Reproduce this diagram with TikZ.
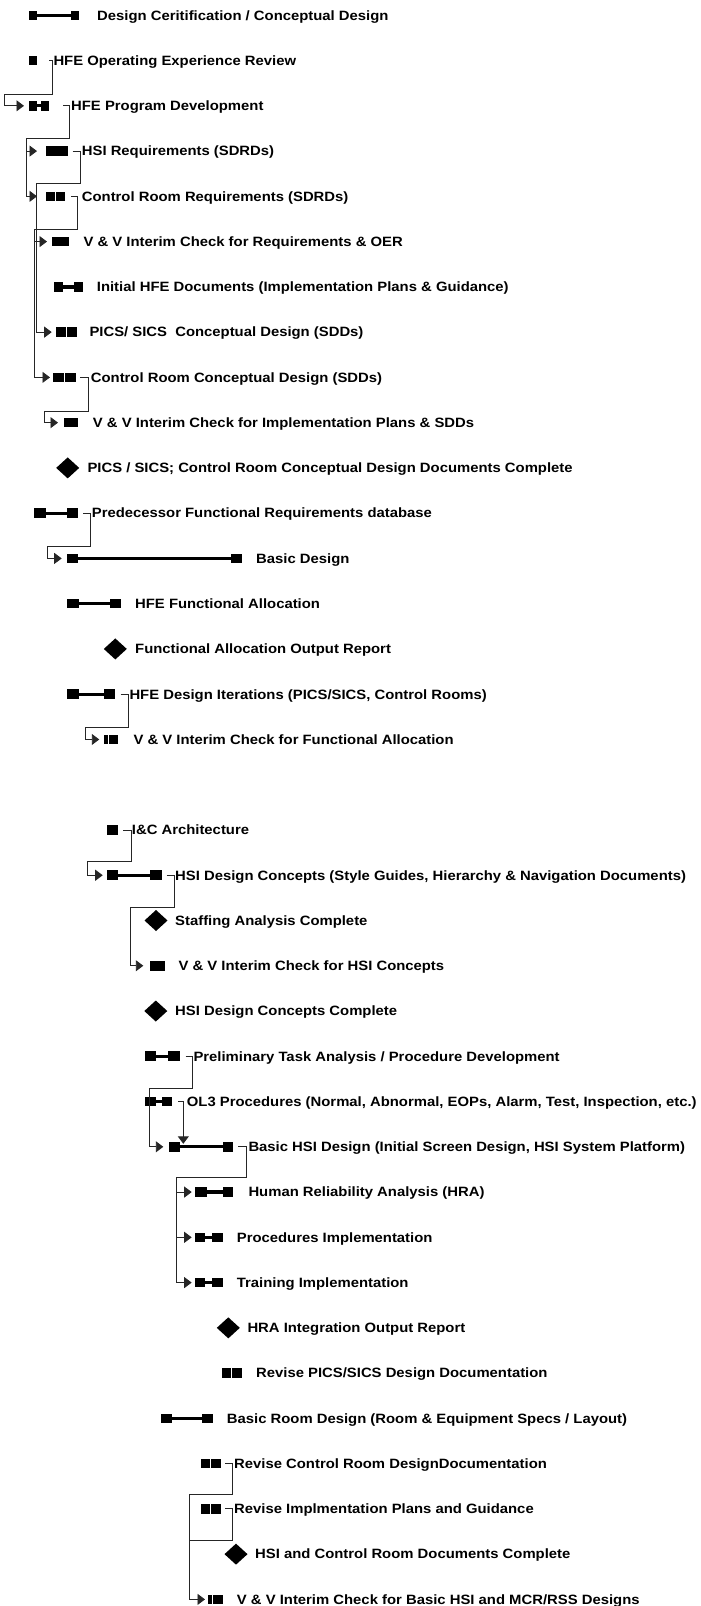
\documentclass[tikz,border=0pt]{standalone}
\usepackage{fontspec}
\setmainfont{Liberation Sans}[FakeStretch=1.1]
\usetikzlibrary{arrows.meta}
\begin{document}
\begin{tikzpicture}[x=1pt,y=-1pt,
  declare function={ry(\i)=15.3+45.26*\i;},
  lbl/.style={anchor=base west,inner sep=0pt,font=\fontsize{13.5}{15}\selectfont\bfseries},
  link/.style={line width=0.9pt,black!85},
  arr/.style={link,-{Triangle[length=7.5pt,width=11pt]}},
  barline/.style={line width=3.3pt},
]
\useasboundingbox (0,0) rectangle (701,1606);
\newcommand\Sq[3]{\fill ({#1},{ry(#3)-4.8}) rectangle ({#2},{ry(#3)+4.8});}
\newcommand\Ln[3]{\draw[barline] ({#1},{ry(#3)}) -- ({#2},{ry(#3)});}
\newcommand\Dia[2]{\fill ({#1-11.5},{ry(#2)}) -- ({#1},{ry(#2)-10.5}) -- ({#1+11.5},{ry(#2)}) -- ({#1},{ry(#2)+10.5}) -- cycle;}
\newcommand\Lbl[3]{\node[lbl] (t#2) at ({#1},{ry(#2)+4.8}) {#3};}

% rows
\Sq{29.3}{37}{0}\Ln{36}{72}{0}\Sq{71}{79}{0}
\Lbl{97}{0}{Design Ceritification / Conceptual Design}
\Sq{29.3}{37}{1}
\Lbl{53.3}{1}{HFE Operating Experience Review}
\Sq{29.3}{37}{2}\Ln{36}{41}{2}\Sq{40.7}{49}{2}
\Lbl{71}{2}{HFE Program Development}
\Sq{45.7}{68.3}{3}
\Lbl{81.7}{3}{HSI Requirements (SDRDs)}
\Sq{45.7}{55}{4}\Sq{55.7}{65}{4}
\Lbl{81.7}{4}{Control Room Requirements (SDRDs)}
\Sq{52}{55.6}{5}\Sq{56.4}{68.5}{5}
\Lbl{83.3}{5}{V \& V Interim Check for Requirements \& OER}
\Sq{54.3}{63.3}{6}\Ln{63}{74.5}{6}\Sq{74}{82.7}{6}
\Lbl{96.7}{6}{Initial HFE Documents (Implementation Plans \& Guidance)}
\Sq{56}{66}{7}\Sq{66.7}{76.7}{7}
\Lbl{89.3}{7}{PICS/ SICS\ \ Conceptual Design (SDDs)}
\Sq{53.3}{64.3}{8}\Sq{65}{76}{8}
\Lbl{90.7}{8}{Control Room Conceptual Design (SDDs)}
\Sq{64}{67.5}{9}\Sq{68.3}{78}{9}
\Lbl{92.7}{9}{V \& V Interim Check for Implementation Plans \& SDDs}
\Dia{67.7}{10}
\Lbl{87.3}{10}{PICS / SICS; Control Room Conceptual Design Documents Complete}
\Sq{34.3}{46}{11}\Ln{45}{67}{11}\Sq{66.7}{78.3}{11}
\Lbl{91.7}{11}{Predecessor Functional Requirements database}
\Sq{66.7}{78.3}{12}\Ln{78}{231.5}{12}\Sq{231}{241.7}{12}
\Lbl{256}{12}{Basic Design}
\Sq{66.7}{79.3}{13}\Ln{79}{110.5}{13}\Sq{110}{120.7}{13}
\Lbl{135}{13}{HFE Functional Allocation}
\Dia{115.3}{14}
\Lbl{135}{14}{Functional Allocation Output Report}
\Sq{66.7}{79.3}{15}\Ln{79}{104.5}{15}\Sq{104.3}{115}{15}
\Lbl{129.3}{15}{HFE Design Iterations (PICS/SICS, Control Rooms)}
\Sq{104.3}{107.8}{16}\Sq{108.6}{118.3}{16}
\Lbl{133.3}{16}{V \& V Interim Check for Functional Allocation}
\Sq{106.7}{118.3}{18}
\Lbl{131.7}{18}{I\&C Architecture}
\Sq{106.7}{118.3}{19}\Ln{118}{150.5}{19}\Sq{150}{161.7}{19}
\Lbl{175}{19}{HSI Design Concepts (Style Guides, Hierarchy \& Navigation Documents)}
\Dia{156}{20}
\Lbl{175}{20}{Staffing Analysis Complete}
\Sq{150}{153.5}{21}\Sq{154.3}{165}{21}
\Lbl{178.3}{21}{V \& V Interim Check for HSI Concepts}
\Dia{155.8}{22}
\Lbl{175}{22}{HSI Design Concepts Complete}
\Sq{145}{156}{23}\Ln{155.5}{168.5}{23}\Sq{168.3}{180}{23}
\Lbl{193.3}{23}{Preliminary Task Analysis / Procedure Development}
\Sq{145}{156}{24}\Ln{155.5}{162}{24}\Sq{161.7}{172.3}{24}
\Lbl{186.7}{24}{OL3 Procedures (Normal, Abnormal, EOPs, Alarm, Test, Inspection, etc.)}
\Sq{169.3}{180}{25}\Ln{179.5}{223}{25}\Sq{222.7}{233.3}{25}
\Lbl{248.3}{25}{Basic HSI Design (Initial Screen Design, HSI System Platform)}
\Sq{195}{206.7}{26}\Ln{206}{223}{26}\Sq{222.7}{233.3}{26}
\Lbl{248.3}{26}{Human Reliability Analysis (HRA)}
\Sq{195}{205}{27}\Ln{204.5}{212}{27}\Sq{211.7}{222.7}{27}
\Lbl{236.7}{27}{Procedures Implementation}
\Sq{195}{205}{28}\Ln{204.5}{212}{28}\Sq{211.7}{222.7}{28}
\Lbl{236.7}{28}{Training Implementation}
\Dia{228.3}{29}
\Lbl{247.3}{29}{HRA Integration Output Report}
\Sq{221.7}{231.3}{30}\Sq{232}{241.7}{30}
\Lbl{256}{30}{Revise PICS/SICS Design Documentation}
\Sq{160.7}{172.3}{31}\Ln{172}{202}{31}\Sq{201.7}{212.7}{31}
\Lbl{226.7}{31}{Basic Room Design (Room \& Equipment Specs / Layout)}
\Sq{200.7}{210.3}{32}\Sq{211}{220.7}{32}
\Lbl{234}{32}{Revise Control Room DesignDocumentation}
\Sq{200.7}{210.3}{33}\Sq{211}{220.7}{33}
\Lbl{234}{33}{Revise Implmentation Plans and Guidance}
\Dia{236}{34}
\Lbl{255}{34}{HSI and Control Room Documents Complete}
\Sq{208.3}{211.8}{35}\Sq{212.6}{222.7}{35}
\Lbl{236.7}{35}{V \& V Interim Check for Basic HSI and MCR/RSS Designs}

% links
\draw[arr] (49.3,{ry(1)}) -| (52.3,{ry(2)-11}) -| (4,{ry(2)}) -- (24,{ry(2)});
\draw[arr] (63.3,{ry(2)}) -| (69,{ry(3)-12.8}) -| (26,{ry(4)}) -- (37,{ry(4)});
\draw[arr] (26,{ry(3)}) -- (37,{ry(3)});
\draw[arr] (72.7,{ry(3)}) -| (80,{ry(4)-13}) -| (36.7,{ry(7)}) -- (51.7,{ry(7)});
\draw[arr] (71,{ry(4)}) -| (77.3,{ry(5)-12.3}) -| (34,{ry(8)}) -- (50,{ry(8)});
\draw[arr] (34,{ry(5)}) -- (47,{ry(5)});
\draw[arr] (80,{ry(8)}) -| (88.3,{ry(9)-11.6}) -| (44.3,{ry(9)}) -- (58,{ry(9)});
\draw[arr] (83.3,{ry(11)}) -| (90.7,{ry(12)-11.7}) -| (47.7,{ry(12)}) -- (61.7,{ry(12)});
\draw[arr] (120.7,{ry(15)}) -| (128.3,{ry(16)-12.2}) -| (85,{ry(16)}) -- (99.3,{ry(16)});
\draw[arr] (123.3,{ry(18)}) -| (131,{ry(19)-13.5}) -| (87.3,{ry(19)}) -- (102.7,{ry(19)});
\draw[arr] (166.7,{ry(19)}) -| (174,{ry(20)-13.2}) -| (130,{ry(21)}) -- (143.3,{ry(21)});
\draw[arr] (185.7,{ry(23)}) -| (192.3,{ry(24)-13.2}) -| (149.3,{ry(25)}) -- (163.3,{ry(25)});
\draw[arr] (178.3,{ry(24)}) -| (183.3,{ry(25)-3});
\draw[arr] (238.3,{ry(25)}) -| (246,{ry(26)-15}) -| (176,{ry(28)}) -- (191.7,{ry(28)});
\draw[arr] (176,{ry(26)}) -- (191.7,{ry(26)});
\draw[arr] (176,{ry(27)}) -- (191.7,{ry(27)});
\draw[arr] (225,{ry(32)}) -| (232.7,{ry(33)-14}) -| (189.3,{ry(35)}) -- (205,{ry(35)});
\draw[link] (225,{ry(33)}) -| (232.7,{ry(34)-13.5}) -- (189.3,{ry(34)-13.5});
\end{tikzpicture}
\end{document}
